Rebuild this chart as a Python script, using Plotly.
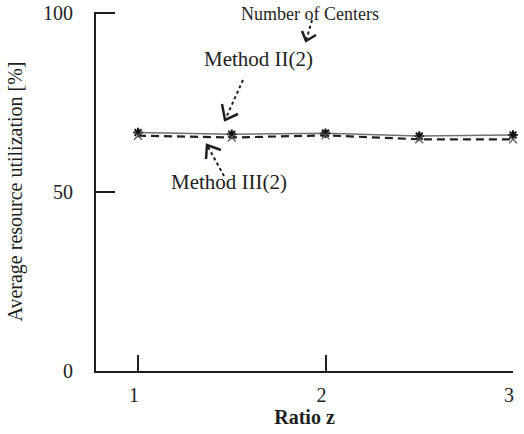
import plotly.graph_objects as go

# Ratio z and average resource utilization [%] per method
ratio_z = [1, 1.5, 2, 2.5, 3]
method_ii = [66.7, 66.2, 66.5, 65.7, 66.0]
method_iii = [65.8, 65.3, 65.9, 64.8, 64.8]

y_ticks = [0, 50, 100]
x_ticks = [1, 2, 3]

W, H = 524, 434
L, R, T, B = 96, 11, 12, 63
PW, PH = W - L - R, H - T - B
FONT = "Liberation Serif, Times New Roman, serif"
INK = "#1e1e1e"


def paper(px, py):
    """Convert a pixel position in the figure to paper coordinates."""
    return (px - L) / PW, 1 - (py - T) / PH


fig = go.Figure()

fig.add_trace(go.Scatter(
    x=ratio_z, y=method_ii, mode="lines+markers", name="Method II(2)",
    line=dict(color="#707070", width=1.5),
    marker=dict(symbol="asterisk-open", size=8, color="#111",
                line=dict(color="#111", width=2)),
    cliponaxis=False,
))
fig.add_trace(go.Scatter(
    x=ratio_z, y=method_iii, mode="lines+markers", name="Method III(2)",
    line=dict(color="#222", width=2.2, dash="8px,5px"),
    marker=dict(symbol="x-thin-open", size=8, color="#555",
                line=dict(color="#555", width=1.2)),
    cliponaxis=False,
))

shapes = []
annotations = []


def label(text, px, py, size):
    x, y = paper(px, py)
    annotations.append(dict(
        text=text, x=x, y=y, xref="paper", yref="paper",
        xanchor="center", yanchor="middle", showarrow=False,
        font=dict(family=FONT, size=size, color=INK),
    ))


def dotted_arrow(tail, tip, arm_a, arm_b):
    x0, y0 = paper(*tail)
    x1, y1 = paper(*tip)
    shapes.append(dict(type="line", xref="paper", yref="paper",
                       x0=x0, y0=y0, x1=x1, y1=y1,
                       line=dict(color=INK, width=2, dash="dot")))
    ax, ay = paper(*arm_a)
    bx, by = paper(*arm_b)
    shapes.append(dict(type="path", xref="paper", yref="paper",
                       path=f"M {ax} {ay} L {x1} {y1} L {bx} {by}",
                       line=dict(color=INK, width=2.5)))


label("Number of Centers", 310, 14, 18)
label("Method II(2)", 258, 59, 21)
label("Method III(2)", 229, 182, 21)

dotted_arrow((312, 20), (306, 41), (302, 31), (316, 35))
dotted_arrow((243, 80), (225, 120), (222, 104), (238, 114))
dotted_arrow((224, 176), (207, 145), (206, 159), (221, 150))

fig.update_layout(
    width=W, height=H,
    margin=dict(l=L, r=R, t=T, b=B),
    paper_bgcolor="white", plot_bgcolor="white",
    showlegend=False,
    font=dict(family=FONT, size=20, color=INK),
    shapes=shapes, annotations=annotations,
    xaxis=dict(
        range=[0.776, 3.0], tickvals=x_ticks, ticktext=[str(v) for v in x_ticks],
        ticks="inside", ticklen=16, tickwidth=2, tickcolor=INK,
        showline=True, linewidth=2, linecolor=INK,
        showgrid=False, zeroline=False, automargin=False,
        tickfont=dict(family=FONT, size=20, color=INK),
        ticklabelshift=-4, ticklabelstandoff=5,
        title=dict(text="<b>Ratio z</b>", font=dict(family=FONT, size=20, color=INK),
                   standoff=0),
    ),
    yaxis=dict(
        range=[0, 100.4], tickvals=y_ticks, ticktext=[str(v) for v in y_ticks],
        ticks="inside", ticklen=19, tickwidth=2, tickcolor=INK,
        showline=True, linewidth=2, linecolor=INK,
        showgrid=False, zeroline=False, automargin=False,
        tickfont=dict(family=FONT, size=20, color=INK),
        ticklabelstandoff=17,
        title=dict(text="Average resource utilization [%]",
                   font=dict(family=FONT, size=20, color=INK), standoff=15),
    ),
)

fig.write_html("out.html")
